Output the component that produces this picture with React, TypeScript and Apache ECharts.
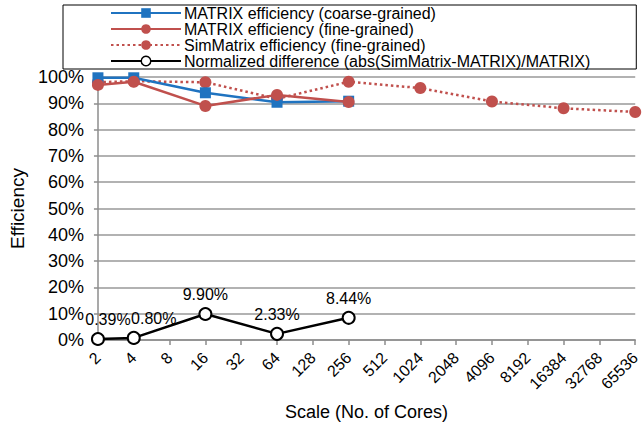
import React, { useEffect, useRef } from "react";
import * as echarts from "echarts";

const categories = ["2", "4", "8", "16", "32", "64", "128", "256", "512", "1024", "2048", "4096", "8192", "16384", "32768", "65536"];
const coarseEff = [99.7, 99.7, null, 94.0, null, 90.4, null, 90.8, null, null, null, null, null, null, null, null];
const fineEff = [97.0, 98.2, null, 89.0, null, 93.2, null, 90.5, null, null, null, null, null, null, null, null];
const simEff = [98.0, 98.4, null, 98.0, null, 91.7, null, 98.2, null, 95.8, null, 90.7, null, 88.1, null, 86.7];
const normDiff = [0.39, 0.8, null, 9.9, null, 2.33, null, 8.44, null, null, null, null, null, null, null, null];
const diffLabelShift = [10, 20, 0, 0, 0, 0, 0, 0, 0, 0, 0, 0, 0, 0, 0, 0];

const FONT = "Liberation Sans, Arial, sans-serif";
const BLUE = "#1F73C0";
const RED = "#C0504D";

export default function App() {
  const ref = useRef<HTMLDivElement>(null);
  useEffect(() => {
    document.body.style.margin = "0";
    const chart = echarts.init(ref.current!, null, { renderer: "svg" });
    chart.setOption({
      animation: false,
      backgroundColor: "#fff",
      textStyle: { fontFamily: FONT, color: "#000" },
      legend: {
        orient: "vertical",
        left: 63,
        top: 5,
        padding: [0, 46, 0, 47],
        borderColor: "#000",
        borderWidth: 1,
        itemWidth: 70,
        itemHeight: 12,
        itemGap: 0,
        textStyle: { fontSize: 16, lineHeight: 15.5, fontFamily: FONT, color: "#000", padding: [0, 0, 0, -2] },
        data: [
          { name: "MATRIX efficiency (coarse-grained)" },
          { name: "MATRIX efficiency (fine-grained)" },
          { name: "SimMatrix efficiency (fine-grained)" },
          { name: "Normalized difference (abs(SimMatrix-MATRIX)/MATRIX)", itemStyle: { borderWidth: 1.5 } },
        ],
      },
      grid: { left: 87, right: 0, top: 77, bottom: 84, containLabel: false },
      xAxis: {
        type: "category",
        data: categories,
        boundaryGap: false,
        name: "Scale (No. of Cores)",
        nameLocation: "middle",
        nameGap: 63,
        nameTextStyle: { fontSize: 18, fontFamily: FONT, color: "#000" },
        axisLine: { lineStyle: { color: "#8c8c8c", width: 1.5 } },
        axisTick: { show: true, length: 5, lineStyle: { color: "#8c8c8c", width: 1.5 } },
        axisLabel: { rotate: 45, interval: 0, fontSize: 16, color: "#000", margin: 15, fontFamily: FONT },
        splitLine: { show: false },
      },
      yAxis: {
        type: "value",
        min: 0,
        max: 100,
        interval: 10,
        name: "Efficiency",
        nameLocation: "middle",
        nameGap: 66,
        nameTextStyle: { fontSize: 19, fontFamily: FONT, color: "#000" },
        axisLine: { show: true, lineStyle: { color: "#8c8c8c", width: 1.5 } },
        axisTick: { show: true, length: 4, lineStyle: { color: "#8c8c8c", width: 1.5 } },
        axisLabel: { formatter: "{value}%", fontSize: 18, color: "#000", margin: 14, fontFamily: FONT },
        splitLine: { lineStyle: { color: "#999", width: 1.5 } },
      },
      series: [
        {
          name: "MATRIX efficiency (coarse-grained)",
          type: "line",
          data: coarseEff,
          connectNulls: true,
          symbol: "rect",
          symbolSize: 11,
          lineStyle: { color: BLUE, width: 2.5 },
          itemStyle: { color: BLUE },
          z: 3,
        },
        {
          name: "MATRIX efficiency (fine-grained)",
          type: "line",
          data: fineEff,
          connectNulls: true,
          symbol: "circle",
          symbolSize: 12,
          lineStyle: { color: RED, width: 2.5 },
          itemStyle: { color: RED },
          z: 4,
        },
        {
          name: "SimMatrix efficiency (fine-grained)",
          type: "line",
          data: simEff,
          connectNulls: true,
          symbol: "circle",
          symbolSize: 12,
          lineStyle: { color: RED, width: 2.5, type: [2.5, 3] },
          itemStyle: { color: RED },
          z: 2,
        },
        {
          name: "Normalized difference (abs(SimMatrix-MATRIX)/MATRIX)",
          type: "line",
          data: normDiff.map((v, i) =>
            v === null ? null : { value: v, label: { offset: [diffLabelShift[i], 0] } }
          ),
          connectNulls: true,
          symbol: "circle",
          symbolSize: 12,
          lineStyle: { color: "#000", width: 2.5 },
          itemStyle: { color: "#fff", borderColor: "#000", borderWidth: 2 },
          label: {
            show: true,
            position: "top",
            distance: 4,
            fontSize: 16,
            fontFamily: FONT,
            color: "#000",
            formatter: (p: any) => Number(p.value).toFixed(2) + "%",
          },
          z: 5,
        },
      ],
    });
    return () => chart.dispose();
  }, []);
  return <div ref={ref} style={{ width: 643, height: 426 }} />;
}
